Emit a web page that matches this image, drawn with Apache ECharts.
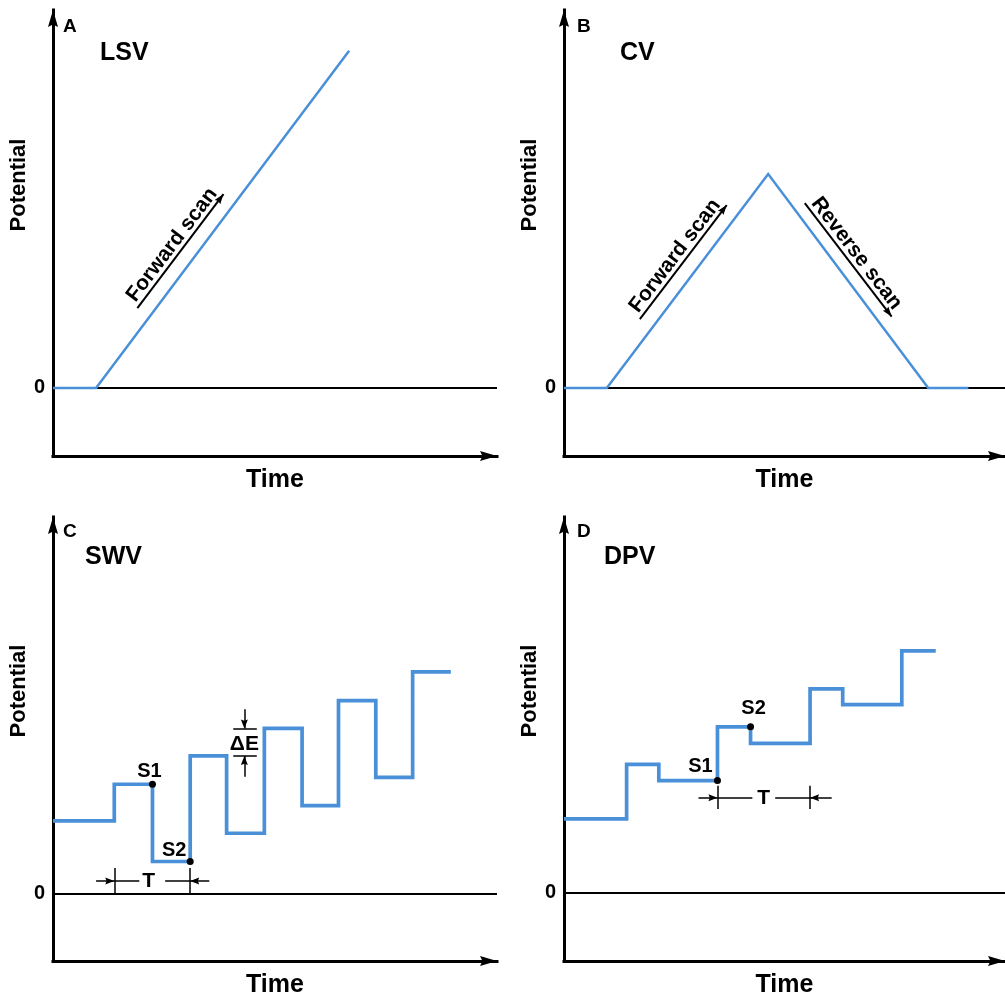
<!DOCTYPE html>
<html>
<head>
<meta charset="utf-8">
<title>Voltammetry potential waveforms</title>
<script src="https://cdn.jsdelivr.net/npm/echarts@6/dist/echarts.min.js"></script>
<style>
  html, body { margin: 0; padding: 0; background: #fff; }
  #chart { width: 1005px; height: 1000px; }
</style>
</head>
<body>
<div id="chart"></div>
<script>
// ---- Waveform data (time and potential in arbitrary units) ----
// LSV: hold at 0, then one linear ramp
const lsvTime = [0, 0.97, 6.67];
const lsvPotential = [0, 0, 8.92];

// CV: hold, forward ramp, reverse ramp, hold
const cvTime = [0, 0.97, 4.63, 8.26, 9.17];
const cvPotential = [0, 0, 5.66, 0, 0];

// SWV: step edges (time) and the level held between consecutive edges
const swvEdges = [0, 1.38, 2.24, 3.09, 3.91, 4.76, 5.61, 6.43, 7.27, 8.10, 8.96];
const swvLevels = [1.94, 2.91, 0.86, 3.66, 1.61, 4.39, 2.34, 5.13, 3.09, 5.89];

// DPV: staircase with pulses
const dpvEdges = [0, 1.42, 2.15, 3.48, 4.23, 5.58, 6.32, 7.66, 8.43];
const dpvLevels = [1.97, 3.42, 2.99, 4.42, 3.98, 5.43, 5.01, 6.44];

// Scan-direction arrows: [tail, tip]
const lsvForward = [[1.90, 2.11], [3.84, 5.13]];
const cvForward = [[1.72, 1.82], [3.69, 4.84]];
const cvReverse = [[5.46, 4.89], [7.43, 1.89]];

// Dimension marks
const swvPeriodY = 0.34;
const swvTickSpan = [0, 0.69];
const swvPeriodTails = [0.97, 3.52];
const swvDeltaSpanX = [4.06, 4.59];
const swvDeltaArrowX = 4.31;
const swvDeltaTails = [4.90, 3.11];
const dpvPeriodY = 2.53;
const dpvTickSpan = [2.23, 2.85];
const dpvPeriodTails = [3.05, 6.07];

// Only the zero potential is labelled
const zeroTicks = [0];

// ---- Styling ----
const BLUE = '#4a90d9';
const FONT = '"Liberation Sans", Arial, Helvetica, sans-serif';
const ARROW_HEAD = 'path://M5,0 L10,17 L5,14.5 L0,17 Z';
const txt = (size) => ({
  fontSize: size, fontWeight: 'bold', color: '#000', fontFamily: FONT,
  textBorderWidth: 0, textBorderColor: 'transparent', opacity: 1
});

const grids = [
  { left: 53, top: 10, width: 444, height: 446 },
  { left: 564, top: 10, width: 441, height: 446 },
  { left: 53, top: 517, width: 444, height: 444 },
  { left: 564, top: 517, width: 441, height: 444 }
];
const yMins = [-1.8, -1.8, -1.78, -1.81];

const pairs = (xs, ys) => xs.map((x, i) => [x, ys[i]]);
const steps = (edges, levels) => {
  const pts = [];
  levels.forEach((v, i) => { pts.push([edges[i], v], [edges[i + 1], v]); });
  return pts;
};

const axisLineStyle = { color: '#000', width: 3, cap: 'square' };
const axisArrow = {
  show: true, onZero: false,
  symbol: ['none', ARROW_HEAD], symbolSize: [10, 17], symbolOffset: [0, -8.5],
  lineStyle: axisLineStyle
};

function xAxisFor(i) {
  return {
    type: 'value', gridIndex: i, min: 0, max: 10,
    axisLine: axisArrow,
    axisTick: { show: false },
    axisLabel: { show: false },
    splitLine: { show: false },
    name: 'Time', nameLocation: 'middle', nameGap: 12,
    nameTextStyle: txt(25)
  };
}

function yAxisFor(i) {
  return {
    type: 'value', gridIndex: i, min: yMins[i], max: 10,
    axisLine: axisArrow,
    axisTick: { show: false },
    axisLabel: Object.assign({ show: true, customValues: zeroTicks, margin: 8 }, txt(20)),
    splitLine: { show: false },
    name: 'Potential', nameLocation: 'middle', nameGap: 22,
    nameTextStyle: Object.assign({ padding: [0, 0, 0, 96] }, txt(22))
  };
}

// ---- Mark-line helpers ----
const zeroLine = { yAxis: 0, lineStyle: { color: '#000', width: 2, type: 'solid' } };

function arrow(from, to, width, size) {
  return [
    { coord: from, symbol: 'none', lineStyle: { color: '#000', width: width, type: 'solid' } },
    { coord: to, symbol: ARROW_HEAD, symbolSize: size, symbolOffset: [0, size[1] / 2] }
  ];
}
function segment(from, to) {
  return [
    { coord: from, symbol: 'none', lineStyle: { color: '#000', width: 1.5, type: 'solid' } },
    { coord: to, symbol: 'none' }
  ];
}
function scanArrow(path, text) {
  const item = arrow(path[0], path[1], 2, [7, 10]);
  item[0].label = Object.assign({
    show: true, formatter: text, position: 'insideMiddleTop', distance: 0
  }, txt(21));
  return item;
}

function markLineOf(data) {
  return {
    silent: true, animation: false,
    symbol: ['none', 'none'],
    label: { show: false },
    emphasis: { disabled: true },
    lineStyle: { color: '#000', width: 1.5, type: 'solid' },
    data: data
  };
}

function waveSeries(i, data, width, marks) {
  return {
    type: 'line', xAxisIndex: i, yAxisIndex: i, z: 10,
    data: data, symbol: 'none', showSymbol: false, silent: true,
    lineStyle: { color: BLUE, width: width, join: 'miter' },
    markLine: markLineOf(marks)
  };
}

const dimArrow = [7, 9];

// SWV annotations
const swvMarks = [
  zeroLine,
  segment([swvEdges[1], swvTickSpan[0]], [swvEdges[1], swvTickSpan[1]]),
  segment([swvEdges[3], swvTickSpan[0]], [swvEdges[3], swvTickSpan[1]]),
  segment([swvEdges[1], swvPeriodY], [swvEdges[3], swvPeriodY]),
  arrow([swvPeriodTails[0], swvPeriodY], [swvEdges[1], swvPeriodY], 1.5, dimArrow),
  arrow([swvPeriodTails[1], swvPeriodY], [swvEdges[3], swvPeriodY], 1.5, dimArrow),
  segment([swvDeltaSpanX[0], swvLevels[5]], [swvDeltaSpanX[1], swvLevels[5]]),
  segment([swvDeltaSpanX[0], swvLevels[3]], [swvDeltaSpanX[1], swvLevels[3]]),
  arrow([swvDeltaArrowX, swvDeltaTails[0]], [swvDeltaArrowX, swvLevels[5]], 1.5, dimArrow),
  arrow([swvDeltaArrowX, swvDeltaTails[1]], [swvDeltaArrowX, swvLevels[3]], 1.5, dimArrow)
];

// DPV annotations
const dpvMarks = [
  zeroLine,
  segment([dpvEdges[3], dpvTickSpan[0]], [dpvEdges[3], dpvTickSpan[1]]),
  segment([dpvEdges[5], dpvTickSpan[0]], [dpvEdges[5], dpvTickSpan[1]]),
  segment([dpvEdges[3], dpvPeriodY], [dpvEdges[5], dpvPeriodY]),
  arrow([dpvPeriodTails[0], dpvPeriodY], [dpvEdges[3], dpvPeriodY], 1.5, dimArrow),
  arrow([dpvPeriodTails[1], dpvPeriodY], [dpvEdges[5], dpvPeriodY], 1.5, dimArrow)
];

// Sample points and text labels placed in data space
function pointLabel(value, text, size, fontSize, offset, padding) {
  return {
    value: value, symbolSize: size,
    label: Object.assign({
      show: true, formatter: text, position: 'inside', offset: offset,
      backgroundColor: padding ? '#fff' : 'transparent', padding: padding || 0
    }, txt(fontSize))
  };
}

const swvPoints = [
  pointLabel([swvEdges[2], swvLevels[1]], 'S1', 7, 20, [-3, -13]),
  pointLabel([swvEdges[3], swvLevels[2]], 'S2', 7, 20, [-16, -11]),
  pointLabel([(swvEdges[1] + swvEdges[3]) / 2, swvPeriodY], 'T', 0, 21, [0, 0], [0, 10, 0, 3]),
  pointLabel([swvDeltaArrowX, (swvLevels[3] + swvLevels[5]) / 2], 'ΔE', 0, 21, [0, 2])
];
const dpvPoints = [
  pointLabel([dpvEdges[3], dpvLevels[2]], 'S1', 7, 20, [-17, -14]),
  pointLabel([dpvEdges[4], dpvLevels[3]], 'S2', 7, 20, [3, -18]),
  pointLabel([(dpvEdges[3] + dpvEdges[5]) / 2, dpvPeriodY], 'T', 0, 21, [0, 0], [0, 5])
];

function pointSeries(i, data) {
  return {
    type: 'scatter', xAxisIndex: i, yAxisIndex: i, z: 20, silent: true,
    symbol: 'circle', itemStyle: { color: '#000', opacity: 1 },
    emphasis: { disabled: true },
    data: data
  };
}

const panelTitles = [
  { text: 'A', left: 63, top: 17, size: 19 },
  { text: 'LSV', left: 100, top: 41, size: 25 },
  { text: 'B', left: 577, top: 17, size: 19 },
  { text: 'CV', left: 620, top: 41, size: 25 },
  { text: 'C', left: 63, top: 522, size: 19 },
  { text: 'SWV', left: 85, top: 545, size: 25 },
  { text: 'D', left: 577, top: 522, size: 19 },
  { text: 'DPV', left: 604, top: 545, size: 25 }
];

const option = {
  animation: false,
  backgroundColor: '#fff',
  title: panelTitles.map(t => ({
    text: t.text, left: t.left, top: t.top, padding: 0,
    textStyle: txt(t.size)
  })),
  grid: grids.map(g => Object.assign({ containLabel: false, outerBoundsMode: 'none' }, g)),
  xAxis: [0, 1, 2, 3].map(xAxisFor),
  yAxis: [0, 1, 2, 3].map(yAxisFor),
  series: [
    waveSeries(0, pairs(lsvTime, lsvPotential), 2.5, [zeroLine, scanArrow(lsvForward, 'Forward scan')]),
    waveSeries(1, pairs(cvTime, cvPotential), 2.5,
      [zeroLine, scanArrow(cvForward, 'Forward scan'), scanArrow(cvReverse, 'Reverse scan')]),
    waveSeries(2, steps(swvEdges, swvLevels), 3.7, swvMarks),
    waveSeries(3, steps(dpvEdges, dpvLevels), 3.7, dpvMarks),
    pointSeries(2, swvPoints),
    pointSeries(3, dpvPoints)
  ]
};

const chart = echarts.init(document.getElementById('chart'), null, { renderer: 'canvas' });
chart.setOption(option);
</script>
</body>
</html>
